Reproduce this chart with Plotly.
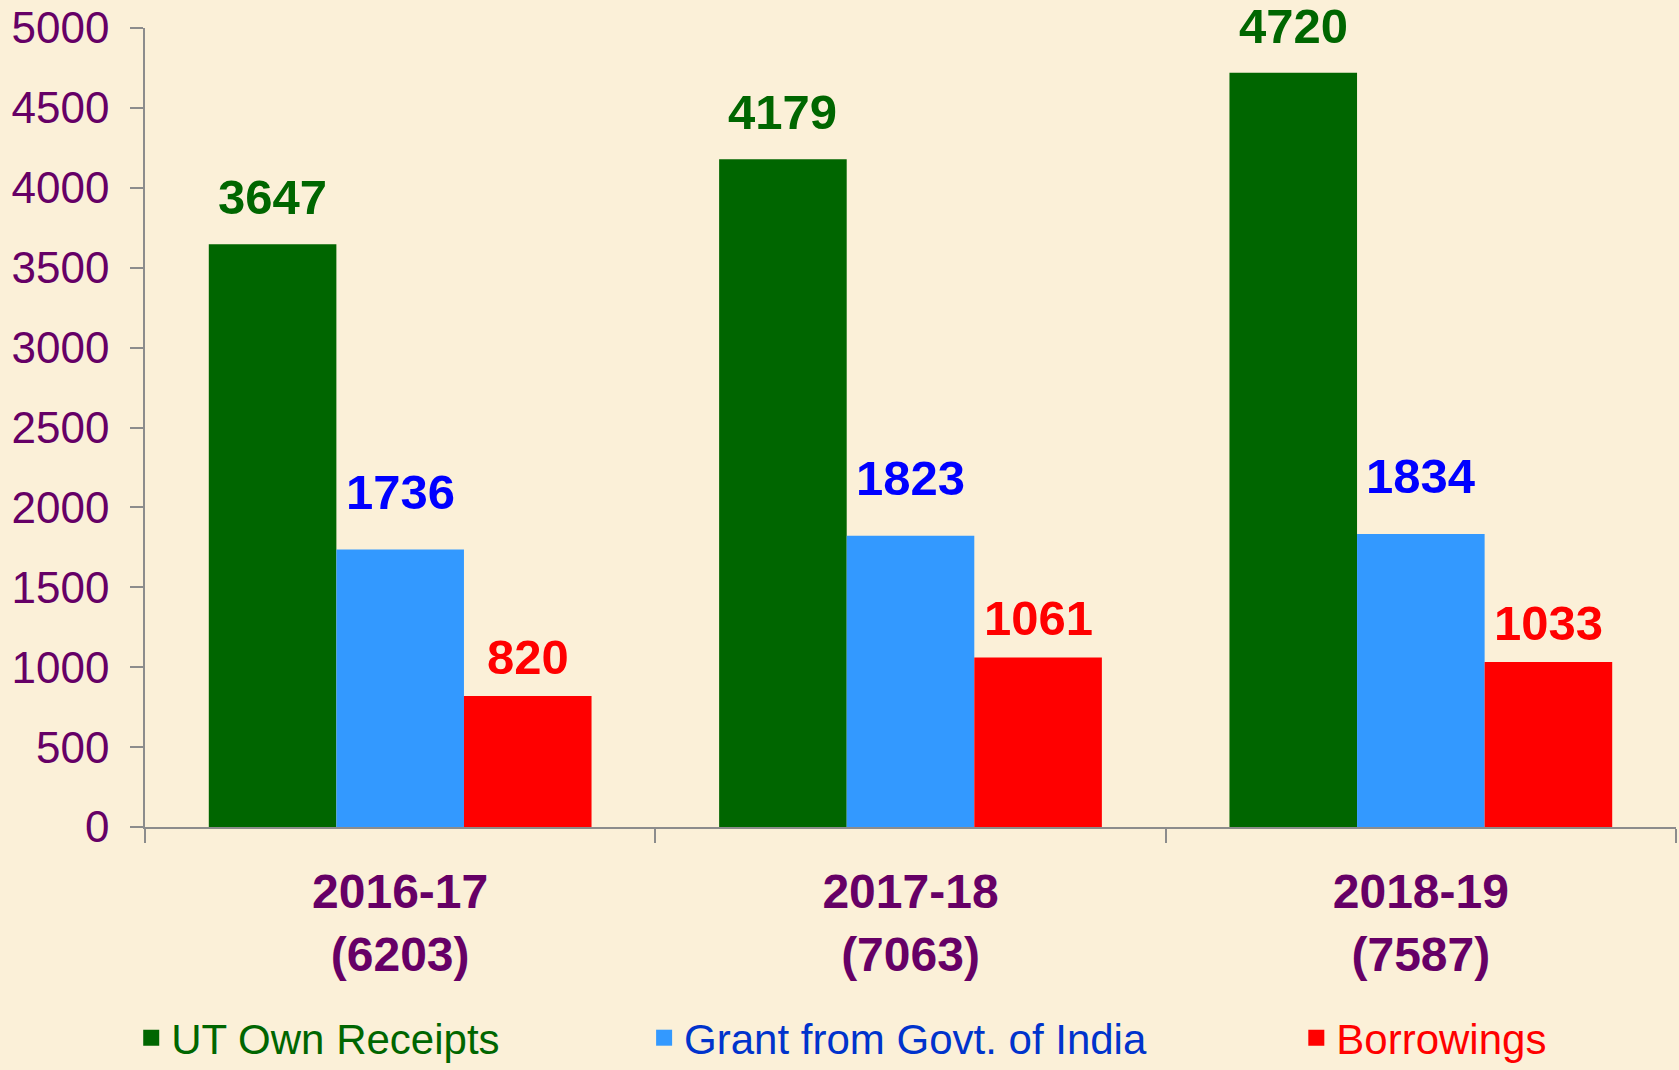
import plotly.graph_objects as go

years = ["2016-17", "2017-18", "2018-19"]
totals = [6203, 7063, 7587]
own_receipts = [3647, 4179, 4720]
grant_goi = [1736, 1823, 1834]
borrowings = [820, 1061, 1033]

# name, values, bar colour, value-label colour, legend text colour, label lift (px)
series = [
    ("UT Own Receipts", own_receipts, "#006600", "#006600", "#006600", 47),
    ("Grant from Govt. of India", grant_goi, "#3399FF", "#0000FF", "#0033CC", 58),
    ("Borrowings", borrowings, "#FF0000", "#FF0000", "#FF0000", 39),
]

W, H = 1679, 1070
ML, MR, MT, MB = 145, 3, 23, 243
BARGAP = 0.25
FONT = "Liberation Sans, Arial, sans-serif"
PURPLE = "#660066"
BG = "#FBF0D8"

cats = [f"{y}<br>({t})" for y, t in zip(years, totals)]

fig = go.Figure()
for name, vals, bar_col, *_ in series:
    fig.add_trace(go.Bar(x=cats, y=vals, name=name, marker_color=bar_col,
                         marker_line_width=0, showlegend=False))

# legend entries with square swatches, each in its own legend
legend_x = [-0.009, 0.326, 0.752]
for k, (name, _, bar_col, _, txt_col, _) in enumerate(series):
    lg = "legend" if k == 0 else f"legend{k + 1}"
    fig.add_trace(go.Scatter(x=[None], y=[None], mode="markers", name=name,
                             marker=dict(symbol="square", size=16, color=bar_col),
                             legend=lg))
    fig.update_layout({lg: dict(
        x=legend_x[k], xanchor="left", yref="container", y=0.03, yanchor="middle",
        orientation="h", bgcolor="rgba(0,0,0,0)",
        font=dict(family=FONT, size=42, color=txt_col),
        itemsizing="trace",
    )})

# value labels above bars
band = (W - ML - MR) / len(cats)
bar_w = band * (1 - BARGAP) / len(series)
for i, (_, vals, _, lab_col, _, lift) in enumerate(series):
    for c, v in zip(cats, vals):
        fig.add_annotation(x=c, y=v, text=f"<b>{v}</b>", showarrow=False,
                           xshift=(i - 1) * bar_w, yshift=lift, yanchor="middle",
                           font=dict(family=FONT, size=49, color=lab_col))

fig.update_layout(
    width=W, height=H,
    margin=dict(l=ML, r=MR, t=MT, b=MB),
    paper_bgcolor=BG, plot_bgcolor=BG,
    barmode="group", bargap=BARGAP, bargroupgap=0,
    font=dict(family=FONT, color=PURPLE),
)
fig.update_yaxes(
    range=[0, 5000], dtick=500, showgrid=False, zeroline=False,
    showline=True, linecolor="#8C8C8C", linewidth=1.5,
    ticks="outside", ticklen=13, tickcolor="#8C8C8C", tickwidth=1.5,
    tickfont=dict(family=FONT, size=44, color=PURPLE),
    ticklabelstandoff=12, ticklabeloverflow="allow",
)
fig.update_xaxes(
    showgrid=False, showline=True, linecolor="#8C8C8C", linewidth=1.5,
    ticks="outside", ticklen=14, tickcolor="#8C8C8C", tickwidth=1.5,
    tickson="boundaries",
    tickfont=dict(family=FONT, size=48, color=PURPLE, weight="bold"),
    ticklabelstandoff=22,
)

fig.write_html("out.html", config={"displayModeBar": False},
               post_script="document.body.style.margin='0';")
